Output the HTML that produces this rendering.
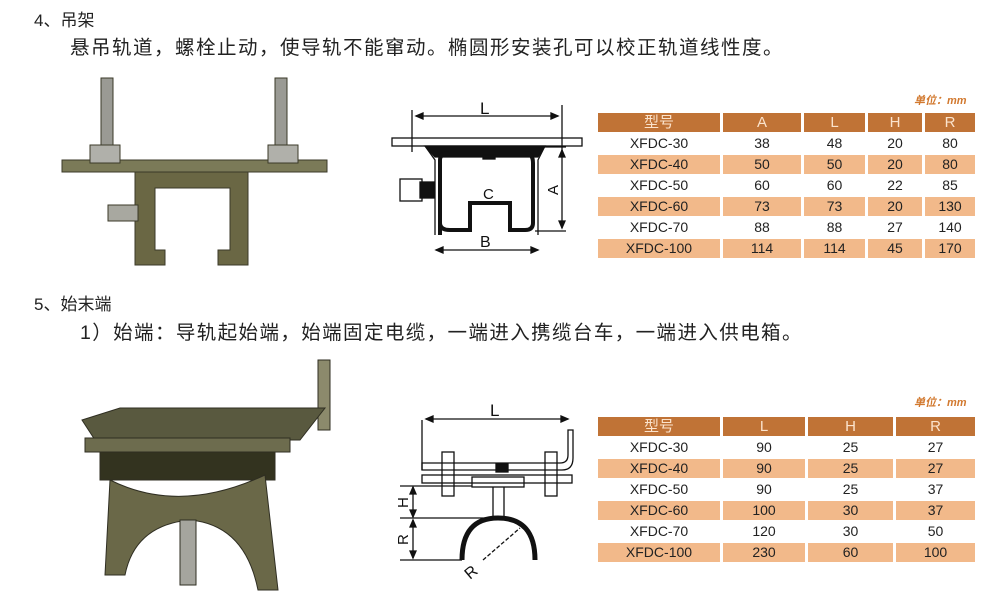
<!DOCTYPE html>
<html><head><meta charset="utf-8"><style>
body{margin:0;width:1007px;height:601px;background:#fff;position:relative;overflow:hidden;font-family:"Liberation Sans","Noto Sans CJK SC",sans-serif;color:#222}
.t{position:absolute;white-space:nowrap}
table{position:absolute;border-collapse:separate;border-spacing:3px 2px;font-size:14px;text-align:center}
td{height:19px;padding:0;line-height:19px}
tr.h td{background:#c07336;color:#fbe3cc;font-size:15px}
tr.o td{background:#f2b98a}
.u{position:absolute;color:#d2792f;font-size:11px;font-weight:bold;font-style:italic}
</style></head><body>
<div class="t" style="left:34px;top:6px;font-size:17px">4、吊架</div>
<div class="t" style="left:70px;top:31px;font-size:19.5px;letter-spacing:1.5px">悬吊轨道，螺栓止动，使导轨不能窜动。椭圆形安装孔可以校正轨道线性度。</div>
<div class="t" style="left:34px;top:290px;font-size:17px">5、始末端</div>
<div class="t" style="left:80px;top:316px;font-size:19.5px;letter-spacing:1.4px">1）始端：导轨起始端，始端固定电缆，一端进入携缆台车，一端进入供电箱。</div>

<div class="u" style="left:914px;top:92px">单位：mm</div>
<table style="left:595px;top:111px">
<tr class="h"><td style="width:122px">型号</td><td style="width:78px">A</td><td style="width:61px">L</td><td style="width:54px">H</td><td style="width:50px">R</td></tr>
<tr><td>XFDC-30</td><td>38</td><td>48</td><td>20</td><td>80</td></tr>
<tr class="o"><td>XFDC-40</td><td>50</td><td>50</td><td>20</td><td>80</td></tr>
<tr><td>XFDC-50</td><td>60</td><td>60</td><td>22</td><td>85</td></tr>
<tr class="o"><td>XFDC-60</td><td>73</td><td>73</td><td>20</td><td>130</td></tr>
<tr><td>XFDC-70</td><td>88</td><td>88</td><td>27</td><td>140</td></tr>
<tr class="o"><td>XFDC-100</td><td>114</td><td>114</td><td>45</td><td>170</td></tr>
</table>

<div class="u" style="left:914px;top:394px">单位：mm</div>
<table style="left:595px;top:415px">
<tr class="h"><td style="width:122px">型号</td><td style="width:82px">L</td><td style="width:85px">H</td><td style="width:79px">R</td></tr>
<tr><td>XFDC-30</td><td>90</td><td>25</td><td>27</td></tr>
<tr class="o"><td>XFDC-40</td><td>90</td><td>25</td><td>27</td></tr>
<tr><td>XFDC-50</td><td>90</td><td>25</td><td>37</td></tr>
<tr class="o"><td>XFDC-60</td><td>100</td><td>30</td><td>37</td></tr>
<tr><td>XFDC-70</td><td>120</td><td>30</td><td>50</td></tr>
<tr class="o"><td>XFDC-100</td><td>230</td><td>60</td><td>100</td></tr>
</table>

<svg style="position:absolute;left:0;top:0" width="1007" height="601">
<g fill="#6d6a4a" stroke="#3b3a28" stroke-width="1">
<rect x="101" y="78" width="12" height="80" fill="#9a9a94"/>
<rect x="275" y="78" width="12" height="80" fill="#9a9a94"/>
<rect x="62" y="160" width="265" height="12" fill="#7b7a58"/>
<rect x="90" y="145" width="30" height="18" fill="#b0b0aa"/>
<rect x="268" y="145" width="30" height="18" fill="#b0b0aa"/>
<path d="M135 172 H248 V265 H218 V250 L230 250 V188 H155 V250 H165 V265 H135 Z" fill="#6a6744"/>
<rect x="108" y="205" width="30" height="16" fill="#a8a8a0"/>
</g>
<g stroke="#2f2e22" stroke-width="1">
<path d="M318 360 H330 V430 H318 Z" fill="#8c8a6c"/>
<path d="M82 420 L120 408 H325 L300 440 H95 Z" fill="#59593f"/>
<rect x="85" y="438" width="205" height="14" fill="#6d6c4e"/>
<rect x="100" y="452" width="175" height="28" fill="#33331f"/>
<path d="M110 480 Q180 515 265 475 L278 590 H258 Q245 525 190 520 Q135 525 125 575 H105 Z" fill="#6a6848"/>
<rect x="180" y="520" width="16" height="65" fill="#a5a59e"/>
</g>
</svg>

<svg style="position:absolute;left:380px;top:85px" width="210" height="180" font-family="Liberation Sans" fill="none" stroke="#111" stroke-width="1.3">
<line x1="32" y1="25" x2="32" y2="67"/><line x1="182" y1="20" x2="182" y2="67"/>
<line x1="36" y1="31" x2="178" y2="31"/><path d="M36 31 l7 -3 v6 z M178 31 l-7 -3 v6 z" fill="#111"/>
<text x="100" y="29" font-size="17" fill="#111" stroke="none">L</text>
<rect x="12" y="53" width="190" height="8"/>
<path d="M45 61 L55 75 V150 M165 61 L158 75 V150" />
<path d="M45 61 H165 L158 72 H55 Z" fill="#111"/>
<path d="M60 150 V75 Q60 68 70 68 H145 Q153 68 153 78 V138 Q153 145 145 145 H130 V118 H90 V145 H70 Q60 145 60 138" stroke-width="4"/>
<rect x="103" y="70" width="12" height="4" fill="#111"/>
<rect x="20" y="94" width="22" height="22"/><rect x="40" y="97" width="14" height="16" fill="#111"/>
<line x1="90" y1="118" x2="130" y2="118"/>
<text x="103" y="114" font-size="15" fill="#111" stroke="none">C</text>
<line x1="155" y1="62" x2="186" y2="62"/><line x1="155" y1="146" x2="186" y2="146"/>
<line x1="182" y1="65" x2="182" y2="143"/><path d="M182 65 l-3 7 h6 z M182 143 l-3 -7 h6 z" fill="#111"/>
<text x="0" y="0" font-size="15" fill="#111" stroke="none" transform="translate(178 110) rotate(-90)">A</text>
<line x1="56" y1="165" x2="158" y2="165"/><path d="M56 165 l7 -3 v6 z M158 165 l-7 -3 v6 z" fill="#111"/>
<text x="100" y="162" font-size="16" fill="#111" stroke="none">B</text>
</svg>

<svg style="position:absolute;left:380px;top:390px" width="210" height="200" font-family="Liberation Sans" fill="none" stroke="#111" stroke-width="1.3">
<line x1="42" y1="30" x2="42" y2="80"/><line x1="46" y1="29" x2="188" y2="29"/>
<path d="M46 29 l7 -3 v6 z M188 29 l-7 -3 v6 z" fill="#111"/>
<text x="110" y="26" font-size="17" fill="#111" stroke="none">L</text>
<path d="M42 73 H180 Q188 73 188 65 V40 H193 V68 Q193 80 182 80 H42 Z"/>
<rect x="42" y="85" width="150" height="8"/>
<rect x="92" y="87" width="52" height="10"/>
<rect x="62" y="62" width="12" height="44"/><rect x="165" y="62" width="12" height="44"/>
<rect x="116" y="74" width="12" height="8" fill="#111"/>
<line x1="113" y1="97" x2="113" y2="128"/><line x1="124" y1="97" x2="124" y2="128"/>
<path d="M82 170 Q82 128 118 128 Q155 128 155 170" stroke-width="5"/>
<line x1="20" y1="96" x2="92" y2="96"/><line x1="20" y1="128" x2="113" y2="128"/><line x1="20" y1="170" x2="82" y2="170"/>
<line x1="33" y1="97" x2="33" y2="127"/><line x1="33" y1="130" x2="33" y2="168"/>
<path d="M33 97 l-3 7 h6 z M33 127 l-3 -7 h6 z M33 130 l-3 7 h6 z M33 168 l-3 -7 h6 z" fill="#111"/>
<text x="0" y="0" font-size="15" fill="#111" stroke="none" transform="translate(28 118) rotate(-90)">H</text>
<text x="0" y="0" font-size="15" fill="#111" stroke="none" transform="translate(28 155) rotate(-90)">R</text>
<line x1="103" y1="170" x2="140" y2="138" stroke-dasharray="4 2"/>
<text x="0" y="0" font-size="16" fill="#111" stroke="none" transform="translate(90 190) rotate(-40)">R</text>
</svg>
</body></html>
